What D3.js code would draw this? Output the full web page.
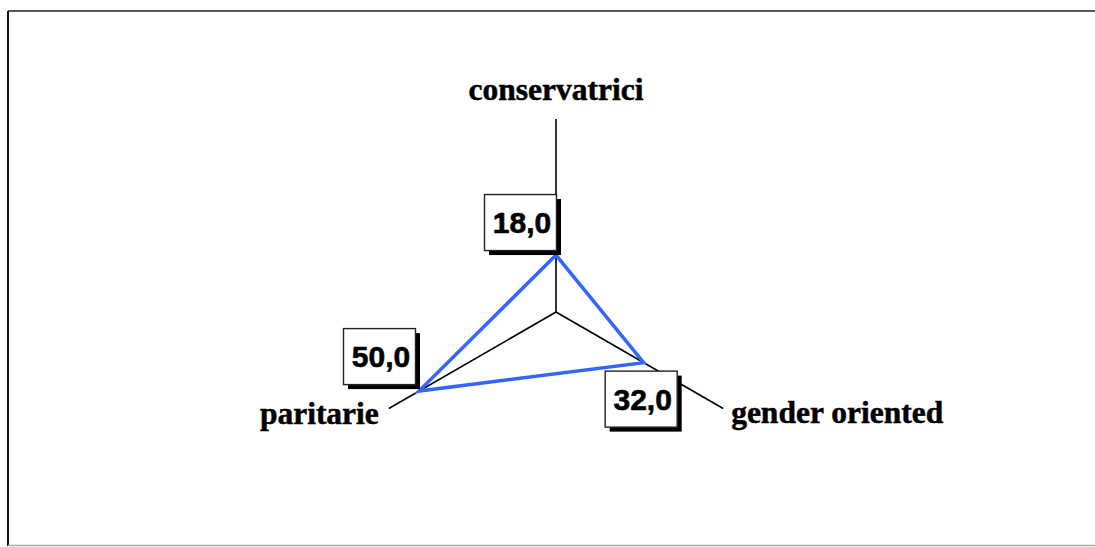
<!DOCTYPE html>
<html>
<head>
    <meta charset="utf-8">
    <style>
        body { margin: 0; background: #fff; }
        svg { display: block; }
        .axis-label { font-family: "Liberation Serif", "Times New Roman", serif; font-weight: bold; font-size: 31.5px; }
        .val-label { font-family: "Liberation Sans", Arial, sans-serif; font-weight: bold; font-size: 30px; }
    </style>
    <script src="https://d3js.org/d3.v7.min.js"></script>
</head>
<body>
<div id="chart"></div>
<script>
    // data
    const axes = ["conservatrici", "gender oriented", "paritarie"];
    const values = [18.0, 32.0, 50.0];
    const maxValue = 61;

    const width = 1095, height = 547;
    const cx = 556, cy = 312, radius = 193;

    const r = d3.scaleLinear().domain([0, maxValue]).range([0, radius]);
    // clockwise from the top
    const angle = d3.scaleLinear().domain([0, axes.length]).range([-Math.PI / 2, 1.5 * Math.PI]);

    const pt = (i, v) => [cx + r(v) * Math.cos(angle(i)), cy + r(v) * Math.sin(angle(i))];

    // label placement (relative to axis end / data point)
    const axisLabelPos = [
        { dx: 0, dy: -19, anchor: "middle" },
        { dx: 8, dy: 14, anchor: "start" },
        { dx: -10, dy: 15, anchor: "end" }
    ];
    const boxPos = [
        { dx: -72, dy: -61 },
        { dx: -39, dy: 8 },
        { dx: -76, dy: -63 }
    ];
    const boxW = 72, boxH = 56, shadow = 5;

    const fmt = v => d3.format(".1f")(v).replace(".", ",");

    const svg = d3.select("#chart").append("svg")
        .attr("width", width)
        .attr("height", height);

    // frame
    svg.append("line").attr("x1", 8).attr("y1", 11).attr("x2", width).attr("y2", 11)
        .attr("stroke", "#222").attr("stroke-width", 1.5);
    svg.append("line").attr("x1", 8).attr("y1", 11).attr("x2", 8).attr("y2", 546)
        .attr("stroke", "#111").attr("stroke-width", 2);
    svg.append("line").attr("x1", 8).attr("y1", 545.5).attr("x2", width).attr("y2", 545.5)
        .attr("stroke", "#aaa").attr("stroke-width", 1.5);

    // axes
    svg.selectAll("line.axis")
        .data(axes)
        .join("line")
        .attr("class", "axis")
        .attr("x1", cx).attr("y1", cy)
        .attr("x2", (d, i) => pt(i, maxValue)[0])
        .attr("y2", (d, i) => pt(i, maxValue)[1])
        .attr("stroke", "#000")
        .attr("stroke-width", 1.6);

    // series polygon
    const line = d3.line().curve(d3.curveLinearClosed);
    svg.append("path")
        .attr("d", line(values.map((v, i) => pt(i, v))))
        .attr("fill", "none")
        .attr("stroke", "#3366ff")
        .attr("stroke-width", 3.5)
        .attr("stroke-linejoin", "miter");

    // value boxes
    const box = svg.selectAll("g.val")
        .data(values)
        .join("g")
        .attr("class", "val")
        .attr("transform", (d, i) => {
            const p = pt(i, d);
            return `translate(${p[0] + boxPos[i].dx},${p[1] + boxPos[i].dy})`;
        });

    box.append("rect")
        .attr("x", shadow).attr("y", shadow)
        .attr("width", boxW).attr("height", boxH)
        .attr("fill", "#000");
    box.append("rect")
        .attr("x", 0.5).attr("y", 0.5)
        .attr("width", boxW).attr("height", boxH)
        .attr("fill", "#fff")
        .attr("stroke", "#222")
        .attr("stroke-width", 1.4);
    box.append("text")
        .attr("class", "val-label")
        .attr("x", boxW / 2 + 2)
        .attr("y", boxH / 2 + 11)
        .attr("text-anchor", "middle")
        .attr("stroke", "#000")
        .attr("stroke-width", 0.6)
        .text(d => fmt(d));

    // axis labels
    svg.selectAll("text.axis-label")
        .data(axes)
        .join("text")
        .attr("class", "axis-label")
        .attr("x", (d, i) => pt(i, maxValue)[0] + axisLabelPos[i].dx)
        .attr("y", (d, i) => pt(i, maxValue)[1] + axisLabelPos[i].dy)
        .attr("text-anchor", (d, i) => axisLabelPos[i].anchor)
        .attr("stroke", "#000")
        .attr("stroke-width", 0.5)
        .text(d => d);
</script>
</body>
</html>
